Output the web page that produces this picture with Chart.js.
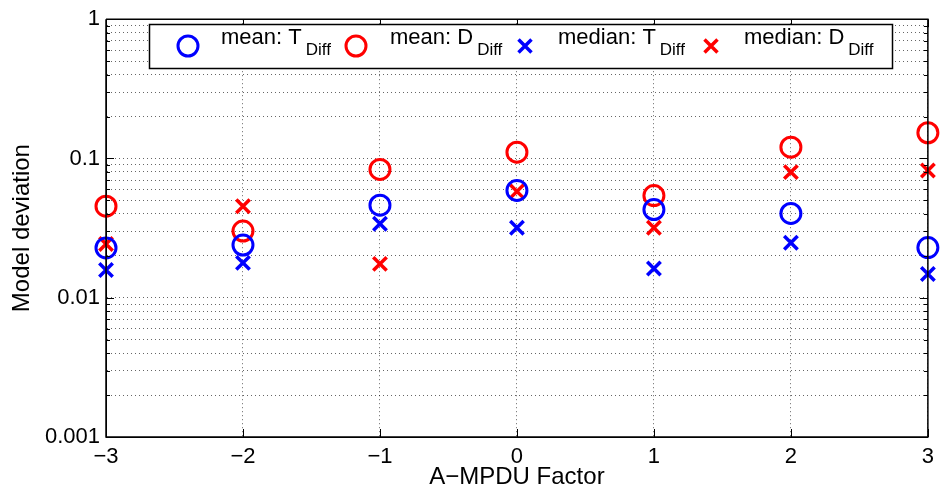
<!DOCTYPE html>
<html>
<head>
<meta charset="utf-8">
<script src="https://cdn.jsdelivr.net/npm/chart.js@4.4.1/dist/chart.umd.min.js"></script>
<style>
  html, body { margin: 0; padding: 0; background: #fff; }
  #wrap { width: 941px; height: 494px; }
</style>
</head>
<body>
<div id="wrap"><canvas id="deviationChart" width="941" height="494"></canvas></div>
<script>
// values
const factors = [-3, -2, -1, 0, 1, 2, 3];
const meanT = [0.0228, 0.0239, 0.0462, 0.059, 0.043, 0.0403, 0.0229];
const meanD = [0.0454, 0.0301, 0.0834, 0.111, 0.0541, 0.1205, 0.153];
const medianT = [0.0158, 0.0178, 0.0340, 0.0318, 0.0162, 0.0248, 0.0148];
const medianD = [0.0243, 0.0454, 0.0175, 0.058, 0.0318, 0.0798, 0.082];

const xTickLabels = ['−3', '−2', '−1', '0', '1', '2', '3'];
const yDecades = [0.001, 0.01, 0.1, 1];
const yTickLabels = ['0.001', '0.01', '0.1', '1'];

const legendMain = ['mean: T', 'mean: D', 'median: T', 'median: D'];
const legendSub = ['Diff', 'Diff', 'Diff', 'Diff'];

const BLUE = '#0000ff';
const RED = '#ff0000';
const FONT = '"Liberation Sans", Arial, Helvetica, sans-serif';

Chart.defaults.font.family = FONT;
Chart.defaults.color = '#000';

function toPoints(ys) {
  return factors.map((x, i) => ({ x: x, y: ys[i] }));
}

// every 1..9 x decade for the log grid
function logTicks() {
  const out = [];
  for (let i = 0; i < yDecades.length - 1; i++) {
    for (let k = 1; k <= 9; k++) {
      out.push({ value: Number((k * yDecades[i]).toPrecision(3)) });
    }
  }
  out.push({ value: yDecades[yDecades.length - 1] });
  return out;
}

const boxAndTicks = {
  id: 'boxAndTicks',
  afterDraw(chart) {
    const { ctx, chartArea: a, scales } = chart;
    ctx.save();
    ctx.strokeStyle = '#000';
    ctx.lineWidth = 1.5;
    ctx.beginPath();
    ctx.moveTo(a.left, a.top);
    ctx.lineTo(a.right, a.top);
    ctx.lineTo(a.right, a.bottom);
    ctx.lineTo(a.left, a.bottom);
    ctx.lineTo(a.left, a.top);
    ctx.stroke();
    ctx.lineWidth = 1;
    ctx.beginPath();
    // x ticks, inward on bottom and top
    factors.forEach(v => {
      const px = Math.round(scales.x.getPixelForValue(v)) + 0.5;
      ctx.moveTo(px, a.bottom);
      ctx.lineTo(px, a.bottom - 8);
      ctx.moveTo(px, a.top);
      ctx.lineTo(px, a.top + 8);
    });
    // y ticks, longer at the decades
    logTicks().forEach(t => {
      const py = Math.round(scales.y.getPixelForValue(t.value)) + 0.5;
      const len = yDecades.includes(t.value) ? 8 : 4;
      ctx.moveTo(a.left, py);
      ctx.lineTo(a.left + len, py);
      ctx.moveTo(a.right, py);
      ctx.lineTo(a.right - len, py);
    });
    ctx.stroke();
    ctx.restore();
  }
};

const subLegend = {
  id: 'subLegend',
  afterDraw(chart) {
    const ctx = chart.ctx;
    const markerX = [188, 356, 525, 711];
    const textX = [221, 390, 558, 744];
    const cy = 46;
    ctx.save();
    ctx.fillStyle = '#fff';
    ctx.fillRect(149, 24, 743, 44);
    ctx.strokeStyle = '#000';
    ctx.lineWidth = 1.5;
    ctx.strokeRect(149.5, 24.5, 743, 44);

    chart.data.datasets.forEach((ds, i) => {
      ctx.strokeStyle = ds.borderColor;
      ctx.lineWidth = ds.borderWidth;
      ctx.beginPath();
      if (ds.pointStyle === 'circle') {
        ctx.arc(markerX[i], cy, 10, 0, Math.PI * 2);
      } else {
        const h = 6.5;
        ctx.moveTo(markerX[i] - h, cy - h);
        ctx.lineTo(markerX[i] + h, cy + h);
        ctx.moveTo(markerX[i] + h, cy - h);
        ctx.lineTo(markerX[i] - h, cy + h);
      }
      ctx.stroke();

      ctx.fillStyle = '#000';
      ctx.textBaseline = 'alphabetic';
      ctx.font = '22px ' + FONT;
      ctx.fillText(legendMain[i], textX[i], 44);
      const w = ctx.measureText(legendMain[i]).width;
      ctx.font = '17px ' + FONT;
      ctx.fillText(legendSub[i], textX[i] + w + 4, 55);
    });
    ctx.restore();
  }
};

const ctx = document.getElementById('deviationChart').getContext('2d');

new Chart(ctx, {
  type: 'scatter',
  data: {
    datasets: [
      { label: 'mean: T_Diff', data: toPoints(meanT), pointStyle: 'circle', radius: 10, hoverRadius: 10,
        borderColor: BLUE, backgroundColor: 'rgba(0,0,0,0)', borderWidth: 3, clip: false },
      { label: 'mean: D_Diff', data: toPoints(meanD), pointStyle: 'circle', radius: 10, hoverRadius: 10,
        borderColor: RED, backgroundColor: 'rgba(0,0,0,0)', borderWidth: 3, clip: false },
      { label: 'median: T_Diff', data: toPoints(medianT), pointStyle: 'crossRot', radius: 9.5, hoverRadius: 9.5,
        borderColor: BLUE, backgroundColor: BLUE, borderWidth: 3.5, clip: false },
      { label: 'median: D_Diff', data: toPoints(medianD), pointStyle: 'crossRot', radius: 9.5, hoverRadius: 9.5,
        borderColor: RED, backgroundColor: RED, borderWidth: 3.5, clip: false }
    ]
  },
  options: {
    responsive: false,
    animation: false,
    devicePixelRatio: 1,
    layout: { padding: { left: 0, top: 17, right: 7, bottom: 0 } },
    plugins: {
      legend: { display: false },
      tooltip: { enabled: false }
    },
    scales: {
      x: {
        type: 'linear',
        min: -3,
        max: 3,
        afterFit: s => { s.height = 57; },
        afterBuildTicks: s => { s.ticks = factors.map(v => ({ value: v })); },
        ticks: {
          padding: 7,
          font: { size: 22 },
          callback: v => xTickLabels[factors.indexOf(v)]
        },
        grid: { color: 'rgba(0,0,0,0.6)', lineWidth: 1, drawTicks: false },
        border: { color: '#000', width: 1, dash: [1, 3] },
        title: { display: true, text: 'A−MPDU Factor', font: { size: 24 }, padding: { top: 0, bottom: 2 } }
      },
      y: {
        type: 'logarithmic',
        min: 0.001,
        max: 1,
        afterFit: s => { s.width = 106; },
        afterBuildTicks: s => { s.ticks = logTicks(); },
        ticks: {
          padding: 6,
          autoSkip: false,
          font: { size: 22 },
          callback: v => {
            const i = yDecades.indexOf(v);
            return i >= 0 ? yTickLabels[i] : '';
          }
        },
        grid: { color: 'rgba(0,0,0,0.6)', lineWidth: 1, drawTicks: false },
        border: { color: '#000', width: 1, dash: [1, 3] },
        title: { display: true, text: 'Model deviation', font: { size: 24 }, padding: { top: 8, bottom: 0 } }
      }
    }
  },
  plugins: [boxAndTicks, subLegend]
});
</script>
</body>
</html>
